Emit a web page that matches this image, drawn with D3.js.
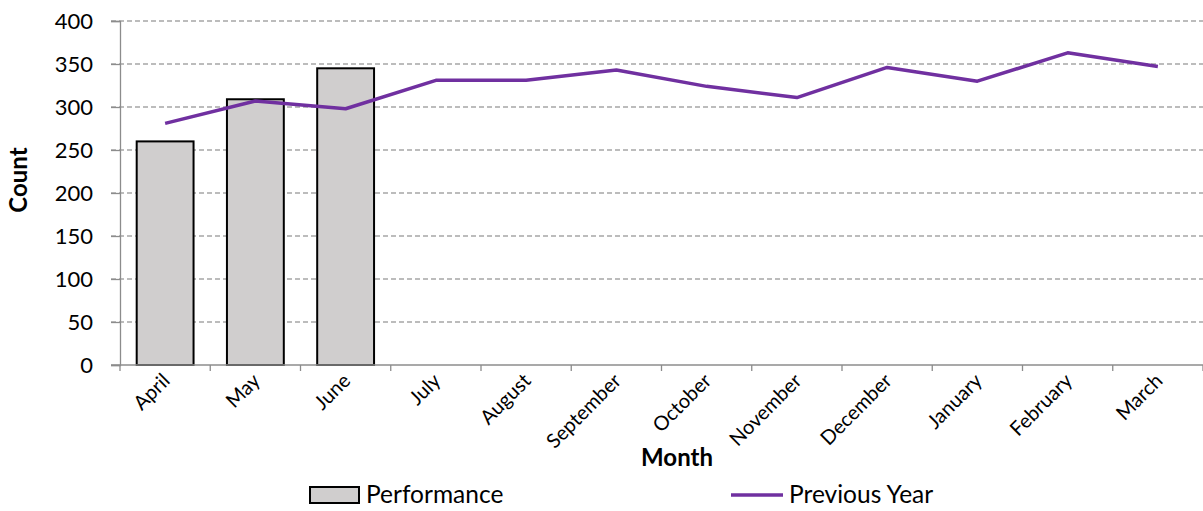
<!DOCTYPE html>
<html>
<head>
<meta charset="utf-8">
<script src="https://cdn.jsdelivr.net/npm/d3@7"></script>
<style>
  html, body { margin: 0; padding: 0; background: #fff; }
  svg { display: block; font-family: Lato, "Open Sans", sans-serif; }
</style>
</head>
<body>
<svg id="chart" width="1203" height="511"></svg>
<script>
// Months of the financial year
const months = ["April", "May", "June", "July", "August", "September",
  "October", "November", "December", "January", "February", "March"];
// Current year counts (only first quarter reported so far)
const performance = [260, 309, 345];
// Counts for the same months of the previous year
const previousYear = [281, 307, 298, 331, 331, 343, 324, 311, 346, 330, 363, 347];
const yTicks = [0, 50, 100, 150, 200, 250, 300, 350, 400];

const svg = d3.select("#chart");
const margin = { left: 120, right: 0, top: 21, bottom: 146 };
const width = 1203 - margin.left - margin.right;
const height = 511 - margin.top - margin.bottom;

const g = svg.append("g").attr("transform", `translate(${margin.left},${margin.top})`);

const x = d3.scaleBand().domain(months).range([0, width]).paddingInner(0.37).paddingOuter(0.185);
const xBand = d3.scaleBand().domain(months).range([0, width]);
const y = d3.scaleLinear().domain([0, 400]).range([height, 0]);

// Horizontal dashed gridlines
g.append("g").selectAll("line").data(yTicks.filter(d => d > 0)).join("line")
  .attr("x1", -9).attr("x2", width)
  .attr("y1", d => y(d)).attr("y2", d => y(d))
  .attr("stroke", "#a6a6a6").attr("stroke-width", 1.3)
  .attr("stroke-dasharray", "5,3");

// Y axis
const yAxis = g.append("g").call(d3.axisLeft(y).tickValues(yTicks).tickSize(9).tickPadding(18));
yAxis.select(".domain").attr("stroke", "#8c8c8c").attr("stroke-width", 1.3);
yAxis.selectAll(".tick line").attr("stroke", "#8c8c8c").attr("stroke-width", 1.3);
yAxis.selectAll(".tick text").attr("font-size", 22).attr("fill", "#000")
  .attr("font-family", "Lato, 'Open Sans', sans-serif");

// Bars
g.append("g").selectAll("rect").data(performance).join("rect")
  .attr("x", (d, i) => x(months[i]))
  .attr("y", d => y(d))
  .attr("width", x.bandwidth())
  .attr("height", d => height - y(d))
  .attr("fill", "#d0cece")
  .attr("stroke", "#000").attr("stroke-width", 2);

// X axis baseline and tick marks on band boundaries
const xAxisG = g.append("g").attr("transform", `translate(0,${height})`);
xAxisG.append("line").attr("x1", -9).attr("x2", width).attr("y1", 0).attr("y2", 0)
  .attr("stroke", "#8c8c8c").attr("stroke-width", 1.3);
xAxisG.selectAll("line.tk").data(months.concat([null])).join("line").attr("class", "tk")
  .attr("x1", (d, i) => i * xBand.step()).attr("x2", (d, i) => i * xBand.step())
  .attr("y1", 0).attr("y2", 6)
  .attr("stroke", "#8c8c8c").attr("stroke-width", 1.3);
xAxisG.selectAll("text").data(months).join("text")
  .attr("transform", d => `translate(${xBand(d) + xBand.bandwidth() / 2 + 6},${17}) rotate(-45)`)
  .attr("text-anchor", "end")
  .attr("font-size", 20)
  .attr("fill", "#000")
  .text(d => d);

// Previous year line
const line = d3.line()
  .x((d, i) => xBand(months[i]) + xBand.bandwidth() / 2)
  .y(d => y(d));
g.append("path").datum(previousYear)
  .attr("d", line)
  .attr("fill", "none")
  .attr("stroke", "#7030a0")
  .attr("stroke-width", 3.5)
  .attr("stroke-linejoin", "round");

// Axis titles
svg.append("text")
  .attr("transform", `translate(27,180) rotate(-90)`)
  .attr("text-anchor", "middle")
  .attr("font-size", 24).attr("font-weight", "bold")
  .text("Count");
svg.append("text")
  .attr("x", 677).attr("y", 466)
  .attr("text-anchor", "middle")
  .attr("font-size", 24).attr("font-weight", "bold")
  .text("Month");

// Legend
const legend = svg.append("g");
legend.append("rect").attr("x", 310).attr("y", 487).attr("width", 49).attr("height", 16)
  .attr("fill", "#d0cece").attr("stroke", "#000").attr("stroke-width", 2);
legend.append("text").attr("x", 366).attr("y", 503).attr("font-size", 24.5).text("Performance");
legend.append("line").attr("x1", 731).attr("x2", 783).attr("y1", 495).attr("y2", 495)
  .attr("stroke", "#7030a0").attr("stroke-width", 3.5);
legend.append("text").attr("x", 789).attr("y", 503).attr("font-size", 24.5).text("Previous Year");
</script>
</body>
</html>
